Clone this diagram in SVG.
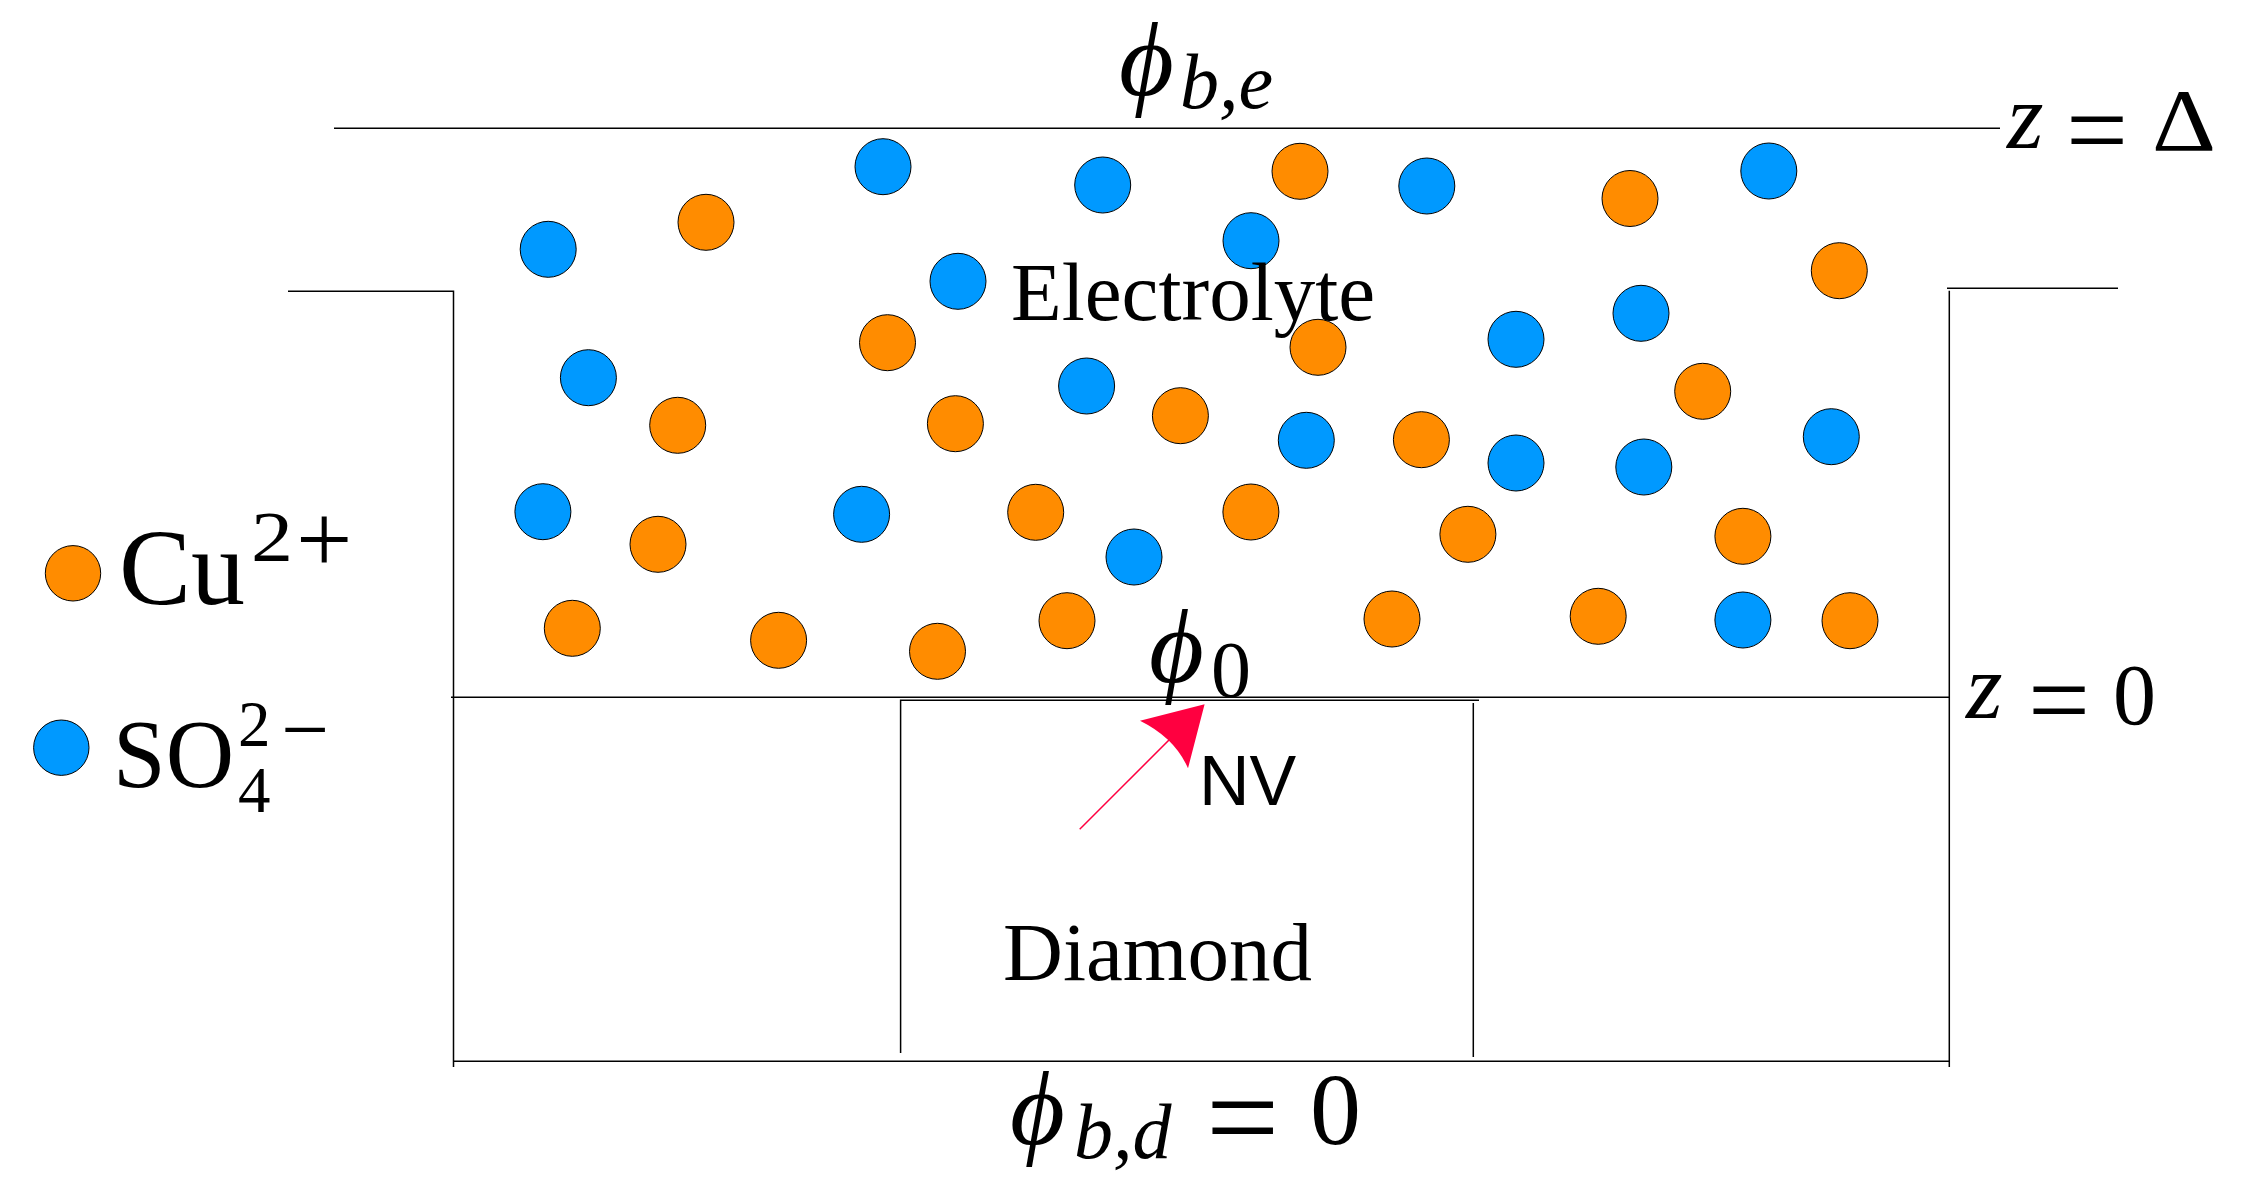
<svg xmlns="http://www.w3.org/2000/svg" width="2246" height="1194" viewBox="0 0 2246 1194">
<style>
.l{stroke:#000;stroke-width:1.5;fill:none}
.cu{fill:#ff8c00;stroke:#000;stroke-width:1}
.so{fill:#0099ff;stroke:#000;stroke-width:1}
text{font-family:"Liberation Serif","Times New Roman",serif;fill:#000}
.i{font-style:italic}
</style>
<rect width="2246" height="1194" fill="#fff"/>
<g id="boundaries">
<path class="l" d="M334 128.3H2000M288 291.3H453.5V1067M451 697.3H1949M1947 288.3H2118M1949.3 290.7V1067M453.5 1061.3H1949.3"/>
<path class="l" d="M900.6 1053V700.3H1479M1473.3 703V1057"/>
</g>
<g id="ions-cu">
<circle class="cu" cx="706" cy="222.3" r="28"/><circle class="cu" cx="1300" cy="171.3" r="28"/><circle class="cu" cx="1630" cy="198.5" r="28"/><circle class="cu" cx="1839.3" cy="270.7" r="28"/><circle class="cu" cx="887.5" cy="342.7" r="28"/><circle class="cu" cx="1318" cy="347.3" r="28"/><circle class="cu" cx="677.7" cy="425.3" r="28"/><circle class="cu" cx="955.4" cy="423.7" r="28"/><circle class="cu" cx="1180.4" cy="415.7" r="28"/><circle class="cu" cx="1421.4" cy="439.7" r="28"/><circle class="cu" cx="1702.7" cy="391.3" r="28"/><circle class="cu" cx="1035.7" cy="512.3" r="28"/><circle class="cu" cx="1250.9" cy="512" r="28"/><circle class="cu" cx="658" cy="544.3" r="28"/><circle class="cu" cx="1467.9" cy="534.3" r="28"/><circle class="cu" cx="1742.9" cy="536.3" r="28"/><circle class="cu" cx="572.3" cy="628.3" r="28"/><circle class="cu" cx="778.6" cy="640.3" r="28"/><circle class="cu" cx="937.5" cy="651.3" r="28"/><circle class="cu" cx="1067" cy="620.7" r="28"/><circle class="cu" cx="1392" cy="619" r="28"/><circle class="cu" cx="1598.2" cy="616.3" r="28"/><circle class="cu" cx="1850" cy="620.7" r="28"/>
</g>
<g id="ions-so">
<circle class="so" cx="548.2" cy="249.3" r="28"/><circle class="so" cx="883" cy="166.7" r="28"/><circle class="so" cx="1102.7" cy="185" r="28"/><circle class="so" cx="1251" cy="240.7" r="28"/><circle class="so" cx="1426.8" cy="186" r="28"/><circle class="so" cx="1768.8" cy="171" r="28"/><circle class="so" cx="958" cy="281.3" r="28"/><circle class="so" cx="588.4" cy="377.7" r="28"/><circle class="so" cx="1086.6" cy="386" r="28"/><circle class="so" cx="1516" cy="339.3" r="28"/><circle class="so" cx="1641" cy="313.3" r="28"/><circle class="so" cx="1306.3" cy="440.3" r="28"/><circle class="so" cx="1516" cy="463" r="28"/><circle class="so" cx="1643.8" cy="467" r="28"/><circle class="so" cx="1831.3" cy="436.7" r="28"/><circle class="so" cx="542.9" cy="511.7" r="28"/><circle class="so" cx="861.6" cy="514.3" r="28"/><circle class="so" cx="1134" cy="557" r="28"/><circle class="so" cx="1742.9" cy="620" r="28"/>
</g>
<g id="legend">
<circle class="cu" cx="73" cy="573.3" r="27.7"/><circle class="so" cx="61.3" cy="747.7" r="27.7"/>
<text x="119" y="604" font-size="108">Cu</text><text x="251" y="561" font-size="72" textLength="42" lengthAdjust="spacingAndGlyphs">2</text><text x="296" y="573" font-size="100">+</text>
<text x="113" y="787" font-size="97" textLength="121" lengthAdjust="spacingAndGlyphs">SO</text><text x="238" y="746" font-size="65">2</text><text x="281" y="758" font-size="85">−</text><text x="238" y="812" font-size="65">4</text>
</g>
<g id="labels">
<text x="1011" y="320" font-size="83">Electrolyte</text>
<text x="1003" y="980" font-size="83">Diamond</text>
<text x="1199" y="805" font-size="70" style="font-family:'Liberation Sans',Arial,sans-serif">NV</text>
<text class="i" x="1119" y="95" font-size="106">ϕ</text><text class="i" x="1180" y="108" font-size="78">b,e</text>
<text class="i" x="2007" y="148" font-size="94">z</text><text x="2066" y="167" font-size="110">=</text><text x="2152" y="150" font-size="88" textLength="64" lengthAdjust="spacingAndGlyphs">Δ</text>
<text class="i" x="1966" y="718" font-size="94">z</text><text x="2028" y="737" font-size="110">=</text><text x="2113" y="724" font-size="86">0</text>
<text class="i" x="1149" y="682" font-size="106">ϕ</text><text x="1211" y="697" font-size="80">0</text>
<text class="i" x="1010" y="1144" font-size="106">ϕ</text><text class="i" x="1074" y="1158" font-size="78">b,d</text><text x="1206" y="1161" font-size="130">=</text><text x="1310" y="1144" font-size="102">0</text>
</g>
<g id="connectors">
<path d="M1079.7 829.3L1200 709" stroke="#ff0040" stroke-width="1.5" fill="none"/>
<path d="M1204.6 704.3L1140 720.7Q1175 738 1188 768.3Z" fill="#ff0040"/>
</g>
</svg>
